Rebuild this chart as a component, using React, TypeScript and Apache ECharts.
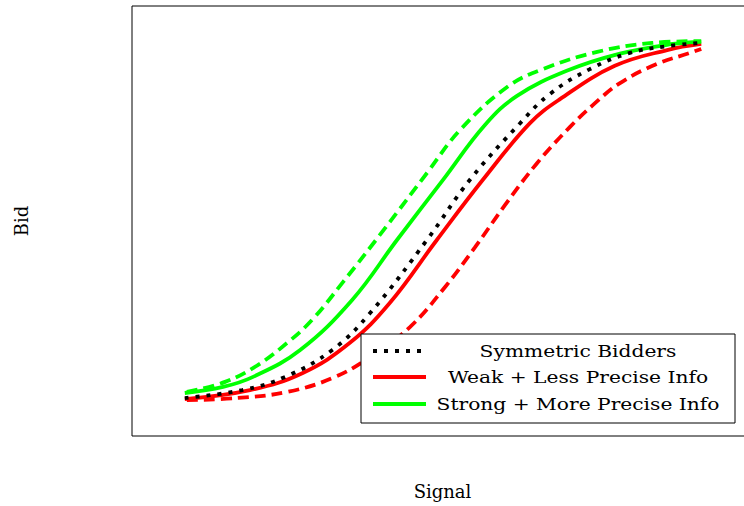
import React, { useEffect, useRef } from "react";
import * as echarts from "echarts";

// Data (x = signal, y = bid), normalised to [0, 1]
const symmetricBidders: [number, number][] = [
  [0.002, 0.006], [0.113, 0.028], [0.196, 0.065], [0.287, 0.14], [0.36, 0.243],
  [0.47, 0.447], [0.553, 0.615], [0.65, 0.773], [0.708, 0.855], [0.785, 0.924],
  [0.862, 0.969], [0.934, 0.988], [1.0, 0.997],
];
const weakLessPrecise: [number, number][] = [
  [0.002, 0.003], [0.128, 0.028], [0.23, 0.076], [0.321, 0.16], [0.398, 0.271],
  [0.489, 0.447], [0.578, 0.615], [0.669, 0.773], [0.727, 0.84],
  [0.833, 0.933], [0.934, 0.977], [1.0, 0.994],
];
const weakLessPreciseDashed: [number, number][] = [
  [0.006, 0.0], [0.103, 0.006], [0.2, 0.023], [0.288, 0.062], [0.36, 0.12],
  [0.437, 0.204], [0.505, 0.316], [0.563, 0.427], [0.621, 0.545], [0.683, 0.662],
  [0.746, 0.762], [0.791, 0.824], [0.843, 0.885], [0.914, 0.938], [0.978, 0.969],
  [1.0, 0.98],
];
const strongMorePrecise: [number, number][] = [
  [0.002, 0.02], [0.076, 0.037], [0.134, 0.065], [0.225, 0.14], [0.325, 0.279],
  [0.412, 0.447], [0.501, 0.615], [0.582, 0.768], [0.644, 0.849], [0.74, 0.919],
  [0.843, 0.967], [0.945, 0.994], [1.0, 1.0],
];
const strongMorePreciseDashed: [number, number][] = [
  [0.006, 0.023], [0.08, 0.051], [0.143, 0.098], [0.2, 0.16], [0.248, 0.224],
  [0.308, 0.33], [0.389, 0.48], [0.47, 0.634], [0.534, 0.754],
  [0.625, 0.874], [0.694, 0.924], [0.799, 0.972], [0.905, 0.997], [1.0, 1.002],
];

const legendNames = ["Symmetric Bidders", "Weak + Less Precise Info", "Strong + More Precise Info"];
const xAxisName = "Signal";
const yAxisName = "Bid";

const RED = "#ff0000";
const GREEN = "#00ff00";
const BLACK = "#000000";
const FONT = "DejaVu Serif";

export default function App() {
  const ref = useRef<HTMLDivElement>(null);

  useEffect(() => {
    if (!ref.current) return;
    const chart = echarts.init(ref.current, undefined, { renderer: "svg" });
    const lw = 3.8;
    const mk = (name: string, data: [number, number][], color: string, type: any) => ({
      name,
      type: "line",
      data,
      smooth: 0.4,
      showSymbol: false,
      symbol: "none",
      lineStyle: { color, width: lw, type, cap: "butt" },
      z: 2,
    });

    const boxX = 361, boxY = 334, boxW = 374, boxH = 89;
    const rows = [351, 377, 404];
    const legendItems: any[] = [
      {
        type: "rect",
        shape: { x: boxX, y: boxY, width: boxW, height: boxH },
        style: { fill: "#ffffff", stroke: "#000000", lineWidth: 1 },
        z: 100,
      },
    ];
    const samples = [
      { color: BLACK, dash: [4, 7] as number[] | null },
      { color: RED, dash: null },
      { color: GREEN, dash: null },
    ];
    samples.forEach((s, i) => {
      legendItems.push({
        type: "line",
        shape: { x1: 373, y1: rows[i], x2: 426, y2: rows[i] },
        style: { stroke: s.color, lineWidth: 4, lineDash: s.dash || undefined, lineCap: "butt" },
        z: 101,
      });
      legendItems.push({
        type: "text",
        x: 578,
        y: rows[i],
        scaleX: 1.19,
        style: {
          text: legendNames[i],
          fill: "#000",
          font: `17px "${FONT}"`,
          textAlign: "center",
          textVerticalAlign: "middle",
        },
        z: 101,
      });
    });

    chart.setOption({
      animation: false,
      grid: {
        left: 132,
        top: 6,
        width: 621,
        height: 430,
        show: true,
        borderColor: "#000",
        borderWidth: 1,
        backgroundColor: "transparent",
        containLabel: false,
        outerBoundsMode: "none",
      },
      xAxis: {
        type: "value",
        min: -0.1,
        max: 1.1,
        name: xAxisName,
        nameLocation: "middle",
        nameGap: 46,
        nameTextStyle: { fontFamily: FONT, fontSize: 18, color: "#000" },
        axisLine: { show: false },
        axisTick: { show: false },
        axisLabel: { show: false },
        splitLine: { show: false },
      },
      yAxis: {
        type: "value",
        min: -0.1,
        max: 1.1,
        name: yAxisName,
        nameLocation: "middle",
        nameGap: 102,
        nameTextStyle: { fontFamily: FONT, fontSize: 18, color: "#000" },
        axisLine: { show: false },
        axisTick: { show: false },
        axisLabel: { show: false },
        splitLine: { show: false },
      },
      series: [
        mk("Weak + Less Precise Info (dashed)", weakLessPreciseDashed, RED, [11, 6]),
        mk("Strong + More Precise Info (dashed)", strongMorePreciseDashed, GREEN, [11, 6]),
        mk(legendNames[1], weakLessPrecise, RED, "solid"),
        mk(legendNames[2], strongMorePrecise, GREEN, "solid"),
        mk(legendNames[0], symmetricBidders, BLACK, [4, 7]),
      ],
      graphic: legendItems,
    });
    return () => chart.dispose();
  }, []);

  return (
    <div
      ref={ref}
      style={{ position: "fixed", left: 0, top: 0, width: 744, height: 506, background: "#fff" }}
    />
  );
}
